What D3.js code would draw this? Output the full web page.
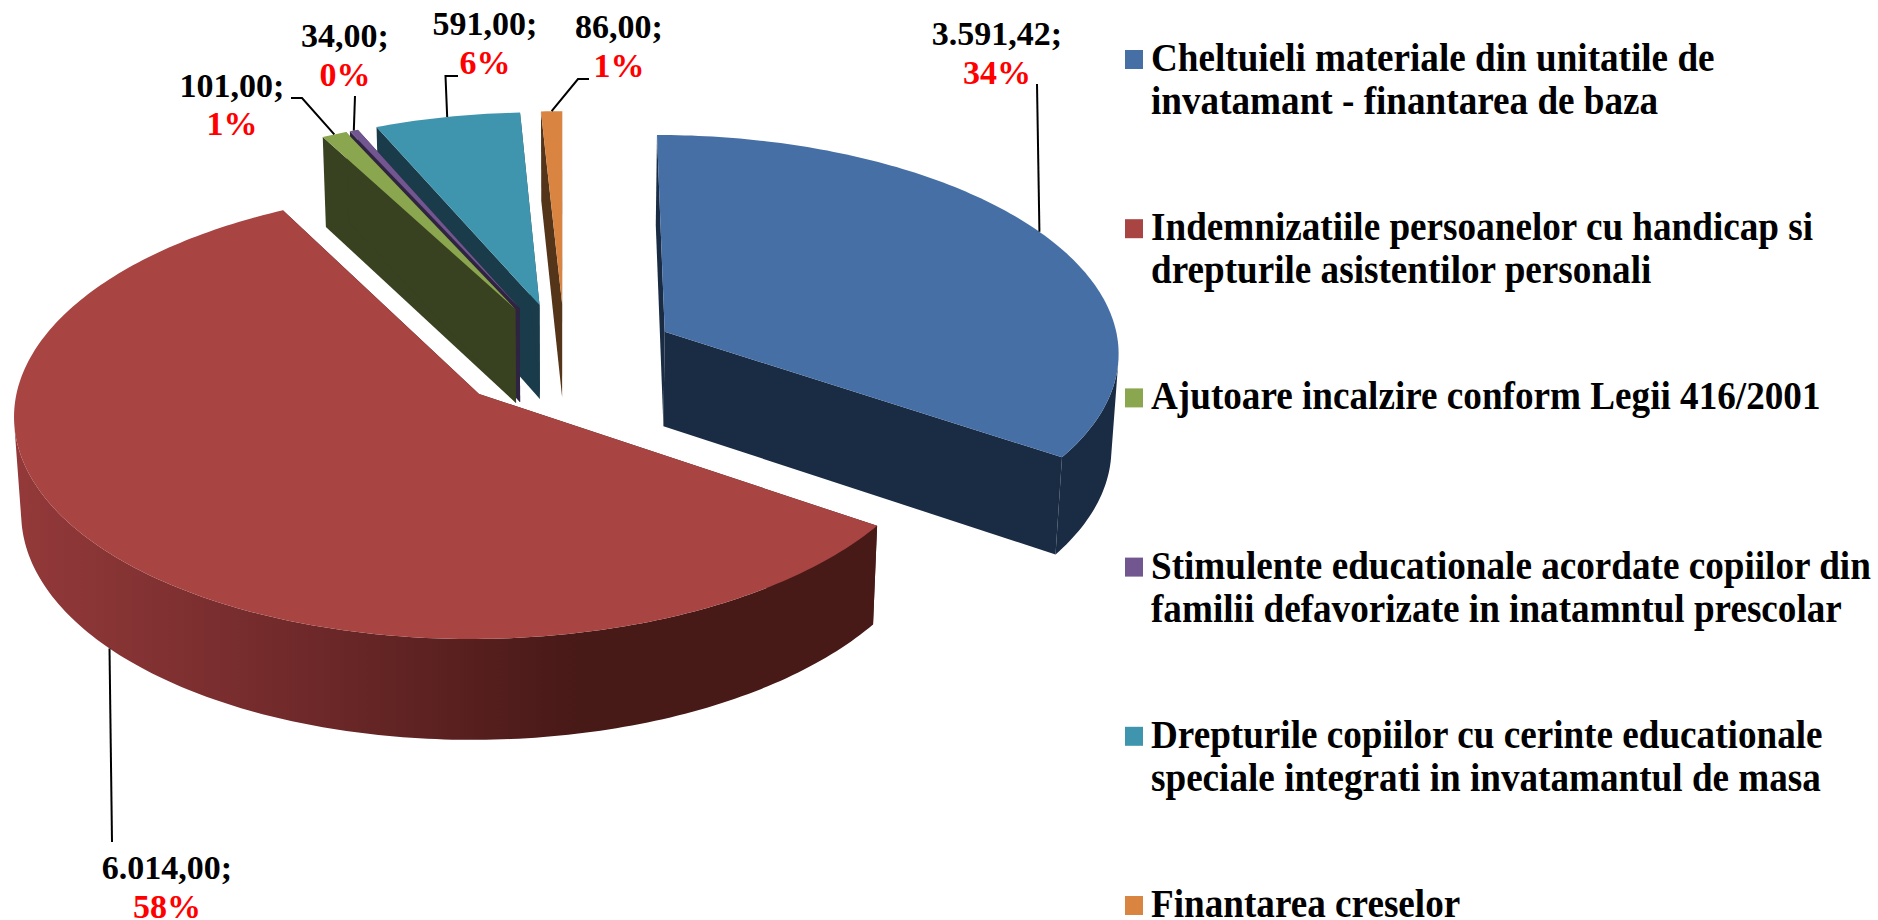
<!DOCTYPE html>
<html>
<head>
<meta charset="utf-8">
<script src="https://cdn.jsdelivr.net/npm/d3@7"></script>
<style>
  body { margin: 0; background: #fff; }
  text { font-family: "Liberation Serif", serif; font-weight: bold; }
</style>
</head>
<body>
<div id="chart-area"></div>
<script>
// data
const categories = [
  ["Cheltuieli materiale din unitatile de", "invatamant - finantarea de baza"],
  ["Indemnizatiile persoanelor cu handicap si", "drepturile asistentilor personali"],
  ["Ajutoare incalzire conform Legii 416/2001"],
  ["Stimulente educationale acordate copiilor din", "familii defavorizate in inatamntul prescolar"],
  ["Drepturile copiilor cu cerinte educationale", "speciale integrati in invatamantul de masa"],
  ["Finantarea creselor"]
];
const values = [3591.42, 6014, 101, 34, 591, 86];

// colours: top face and side wall of each slice
const topColors = ["#4670a5", "#a84442", "#8aa64e", "#725690", "#4095ae", "#d98440"];
const sideColors = ["#1a2c44", "#4a1a18", "#384120", "#2e2340", "#1a3b4a", "#55351a"];

// label placement: centre x, first baseline, leader start and where along the slice it lands
const labelX = [997, 167, 232, 345, 485, 619];
const labelY = [45, 879, 96.5, 47, 35, 38];
const leaderStart = [
  [[1037, 84]],
  [[112, 842]],
  [[291, 98], [302, 98]],
  [[355, 96]],
  [[458, 76], [445.5, 76]],
  [[589, 79], [578, 79]]
];
const leaderAt = [0.49, 0.505, 0.5, 0.5, 0.5, 0.5];

const width = 1878, height = 920;

// perspective of the pie plane
const view = { x0: 565, y0: 357, rx: 456, ry: 217.6, k: 0.085, depth: 95, kd: 0.05, shrink: 0.013 };
const explode = 0.25;

function project(u, v, z) {
  let w = 1 - view.k * v;
  let s = 1 - view.shrink * z;
  return [
    view.x0 + view.rx * u / w * s,
    view.y0 + view.ry * v / w + z * view.depth / (1 - view.kd * v)
  ];
}

let svg = d3.select("#chart-area")
  .append("svg")
    .attr("width", width)
    .attr("height", height);

// red wall darkens from left to right
let grad = svg.append("defs").append("linearGradient")
  .attr("id", "redRim")
  .attr("gradientUnits", "userSpaceOnUse")
  .attr("x1", 20).attr("x2", 720).attr("y1", 0).attr("y2", 0);
grad.append("stop").attr("offset", "0%").attr("stop-color", "#93393a");
grad.append("stop").attr("offset", "40%").attr("stop-color", "#70292a");
grad.append("stop").attr("offset", "80%").attr("stop-color", "#471917");
grad.append("stop").attr("offset", "100%").attr("stop-color", "#471917");

let slices = d3.pie().sort(null)(values);
let line = d3.line();

// helpers for one slice
function apexOf(d) {
  let mid = (d.startAngle + d.endAngle) / 2;
  return [explode * Math.sin(mid), -explode * Math.cos(mid)];
}
function rimPoint(d, a, z) {
  let c = apexOf(d);
  return project(c[0] + Math.sin(a), c[1] - Math.cos(a), z);
}
function arcAngles(d) {
  let n = Math.max(2, Math.ceil((d.endAngle - d.startAngle) * 60));
  return d3.range(n + 1).map(i => d.startAngle + (d.endAngle - d.startAngle) * i / n);
}

// back slices first, the big red one last
const drawOrder = [5, 4, 3, 2, 0, 1];

drawOrder.forEach(i => {
  let d = slices[i];
  let c = apexOf(d);
  let g = svg.append("g").attr("class", "slice");
  let angles = arcAngles(d);

  // the two cut walls
  [d.startAngle, d.endAngle].forEach(a => {
    g.append("path")
      .attr("d", line([
        project(c[0], c[1], 0), rimPoint(d, a, 0),
        rimPoint(d, a, 1), project(c[0], c[1], 1)
      ]) + "Z")
      .attr("fill", sideColors[i]);
  });

  // outer wall: only the quads that face the viewer, joined in one path so no seams show
  let wall = d3.pairs(angles)
    .map(([a0, a1]) => [
      rimPoint(d, a0, 0), rimPoint(d, a1, 0),
      rimPoint(d, a1, 1), rimPoint(d, a0, 1)
    ])
    .filter(q => d3.polygonArea(q) > 0)
    .map(q => line(q) + "Z")
    .join("");
  if (wall) {
    g.append("path")
      .attr("d", wall)
      .attr("fill", i === 1 ? "url(#redRim)" : sideColors[i]);
  }

  // top face
  let topArc = angles.map(a => rimPoint(d, a, 0));
  g.append("path")
    .attr("d", line([project(c[0], c[1], 0)].concat(topArc)) + "Z")
    .attr("fill", topColors[i]);
});

// leaders run to the slice's rim (red one to the wall's bottom edge)
slices.forEach((d, i) => {
  let a = d.startAngle + (d.endAngle - d.startAngle) * leaderAt[i];
  svg.append("path")
    .attr("d", line(leaderStart[i].concat([rimPoint(d, a, i === 1 ? 1 : 0)])))
    .attr("fill", "none")
    .attr("stroke", "#000")
    .attr("stroke-width", 2);
});

// data labels
const roLocale = d3.formatLocale({ decimal: ",", thousands: ".", grouping: [3], currency: ["", ""] });
const fmtValue = roLocale.format(",.2f");
const fmtPct = d3.format(".0%");
const total = d3.sum(values);

values.forEach((v, i) => {
  svg.append("text")
    .attr("x", labelX[i]).attr("y", labelY[i])
    .attr("text-anchor", "middle")
    .attr("font-size", 34)
    .attr("fill", "#000")
    .text(fmtValue(v) + ";");
  svg.append("text")
    .attr("x", labelX[i]).attr("y", labelY[i] + 38.5)
    .attr("text-anchor", "middle")
    .attr("font-size", 34)
    .attr("fill", "#ff0000")
    .text(fmtPct(v / total));
});

// legend
let legendY = d3.scaleLinear().domain([0, 5]).range([71, 917]);
const legendSquash = 0.941;

categories.forEach((lines, i) => {
  svg.append("rect")
    .attr("x", 1125)
    .attr("y", legendY(i) - 21)
    .attr("width", 18)
    .attr("height", 19)
    .attr("fill", topColors[i]);
  lines.forEach((t, j) => {
    svg.append("text")
      .attr("transform", `translate(1151, ${legendY(i) + j * 43}) scale(${legendSquash}, 1)`)
      .attr("font-size", 39.5)
      .attr("fill", "#000")
      .text(t);
  });
});
</script>
</body>
</html>
